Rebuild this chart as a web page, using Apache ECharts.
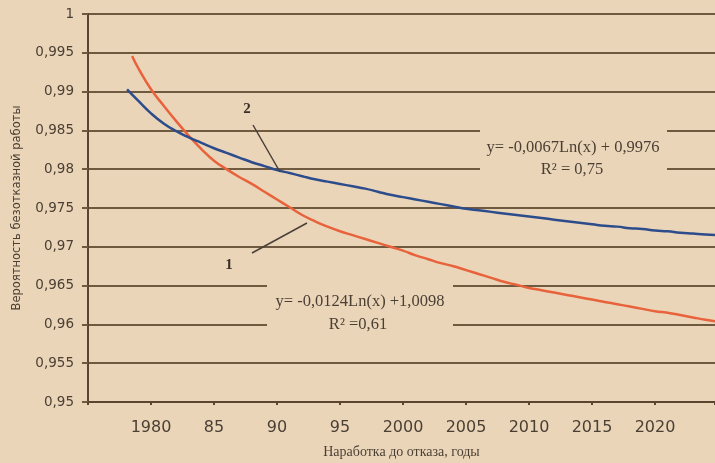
<!DOCTYPE html>
<html><head><meta charset="utf-8">
<script src="https://cdn.jsdelivr.net/npm/echarts@6/dist/echarts.min.js"></script>
<style>html,body{margin:0;padding:0;background:#EBD5B9;}#c{width:715px;height:463px;}</style>
</head><body><div id="c"></div>
<script>
// Curve 1 (red)
const redYears = [1978.5,1979,1980,1981,1982,1983,1984,1985,1986,1987,1988,1989,1990,1991,1992,1993,1994,1995,1996,1997,1998,1999,2000,2001,2002,2003,2004,2005,2006,2007,2008,2009,2010,2011,2012,2013,2014,2015,2016,2017,2018,2019,2020,2021,2022,2023,2024,2024.8];
const redValues = [0.9946,0.9930,0.9903,0.9882,0.9862,0.9843,0.9826,0.9811,0.9800,0.9790,0.9781,0.9771,0.9761,0.9751,0.9741,0.9733,0.9726,0.9720,0.9715,0.9710,0.9705,0.9700,0.9695,0.9689,0.9684,0.9679,0.9675,0.9670,0.9665,0.9660,0.9655,0.9651,0.9647,0.9644,0.9641,0.9638,0.9635,0.9632,0.9629,0.9626,0.9623,0.9620,0.9617,0.9615,0.9612,0.9609,0.9606,0.9604];
// Curve 2 (blue)
const blueYears = [1978.1,1979,1980,1981,1982,1983,1984,1985,1986,1987,1988,1989,1990,1991,1992,1993,1994,1995,1996,1997,1998,1999,2000,2001,2002,2003,2004,2005,2006,2007,2008,2009,2010,2011,2012,2013,2014,2015,2016,2017,2018,2019,2020,2021,2022,2023,2024,2024.8];
const blueValues = [0.9903,0.9888,0.9872,0.9859,0.9849,0.9841,0.9834,0.9827,0.9821,0.9815,0.9809,0.9804,0.9799,0.9795,0.9791,0.9787,0.9784,0.9781,0.9778,0.9775,0.9771,0.9767,0.9764,0.9761,0.9758,0.9755,0.9752,0.9749,0.9747,0.9745,0.9743,0.9741,0.9739,0.9737,0.9735,0.9733,0.9731,0.9729,0.9727,0.9726,0.9724,0.9723,0.9721,0.9720,0.9718,0.9717,0.9716,0.9715];
// Axis tick labels
const xTickValues = [1980,1985,1990,1995,2000,2005,2010,2015,2020];
const xTickLabels = ['1980','85','90','95','2000','2005','2010','2015','2020'];
const yMin = 0.95, yMax = 1, yStep = 0.005;
const xMin = 1975, xMax = 2024.76, xStep = 5;
const eq1 = ['y= -0,0124Ln(x) +1,0098', 'R\u00B2 =0,61'];
const eq2 = ['y= -0,0067Ln(x) + 0,9976', 'R\u00B2 = 0,75'];
const curveLabels = ['1', '2'];

const bg = '#EBD5B9';
const gridColor = '#6f5a40';
const textColor = '#4a3f33';

const chart = echarts.init(document.getElementById('c'));
chart.setOption({
  backgroundColor: bg,
  animation: false,
  grid: {left: 88, right: 0, top: 14, bottom: 61, containLabel: false, outerBoundsMode: 'none'},
  xAxis: {
    type: 'value', min: xMin, max: xMax, interval: xStep,
    name: 'Наработка до отказа, годы', nameLocation: 'middle', nameGap: 43,
    nameTextStyle: {fontFamily: 'Liberation Serif', fontSize: 14, color: textColor},
    axisLine: {show: true, lineStyle: {color: '#5a4630', width: 2}},
    axisTick: {show: true, length: 3, lineStyle: {color: '#5a4630', width: 2}},
    splitLine: {show: false},
    axisLabel: {
      margin: 18, fontFamily: 'DejaVu Sans', fontSize: 16, color: textColor,
      formatter: v => { const i = xTickValues.indexOf(Math.round(v*100)/100); return i >= 0 ? xTickLabels[i] : ''; }
    }
  },
  yAxis: {
    type: 'value', min: yMin, max: yMax, interval: yStep,
    name: 'Вероятность безотказной работы', nameLocation: 'middle', nameRotate: 90, nameGap: 65,
    nameTextStyle: {fontFamily: 'DejaVu Sans', fontSize: 11.5, color: textColor},
    axisLine: {show: true, lineStyle: {color: '#5a4630', width: 2}},
    axisTick: {show: true, length: 6, lineStyle: {color: gridColor, width: 2}},
    splitLine: {show: true, lineStyle: {color: gridColor, width: 2}},
    axisLabel: {
      margin: 14, fontFamily: 'DejaVu Sans', fontSize: 13.5, color: textColor,
      formatter: v => String(+(+v).toFixed(3)).replace('.', ',')
    }
  },
  series: [
    {type: 'line', name: '1', data: redYears.map((x, i) => [x, redValues[i]]), showSymbol: false, smooth: true,
     lineStyle: {color: '#e8623c', width: 2.5}, itemStyle: {color: '#e8623c'}, z: 3},
    {type: 'line', name: '2', data: blueYears.map((x, i) => [x, blueValues[i]]), showSymbol: false, smooth: true,
     lineStyle: {color: '#2c4c8c', width: 2.5}, itemStyle: {color: '#2c4c8c'}, z: 4}
  ],
  graphic: [
    {type: 'rect', z: 10, shape: {x: 267, y: 280, width: 186, height: 52}, style: {fill: bg}},
    {type: 'text', z: 11, style: {text: eq1[0], x: 360, y: 302, textAlign: 'center', textVerticalAlign: 'middle', font: '16.5px "Liberation Serif"', fill: textColor}},
    {type: 'text', z: 11, style: {text: eq1[1], x: 358, y: 325, textAlign: 'center', textVerticalAlign: 'middle', font: '16.5px "Liberation Serif"', fill: textColor}},
    {type: 'rect', z: 10, shape: {x: 480, y: 122, width: 187, height: 56}, style: {fill: bg}},
    {type: 'text', z: 11, style: {text: eq2[0], x: 573, y: 148, textAlign: 'center', textVerticalAlign: 'middle', font: '16.5px "Liberation Serif"', fill: textColor}},
    {type: 'text', z: 11, style: {text: eq2[1], x: 572, y: 170, textAlign: 'center', textVerticalAlign: 'middle', font: '16.5px "Liberation Serif"', fill: textColor}},
    {type: 'text', z: 11, style: {text: curveLabels[0], x: 229, y: 265, textAlign: 'center', textVerticalAlign: 'middle', font: 'bold 15px "Liberation Serif"', fill: '#3a3028'}},
    {type: 'line', z: 11, shape: {x1: 252, y1: 253, x2: 307, y2: 223}, style: {stroke: '#4a4038', lineWidth: 1.5}},
    {type: 'text', z: 11, style: {text: curveLabels[1], x: 247, y: 109, textAlign: 'center', textVerticalAlign: 'middle', font: 'bold 15px "Liberation Serif"', fill: '#3a3028'}},
    {type: 'line', z: 11, shape: {x1: 253, y1: 125, x2: 280, y2: 172}, style: {stroke: '#4a4038', lineWidth: 1.5}}
  ]
});
</script>
</body></html>
